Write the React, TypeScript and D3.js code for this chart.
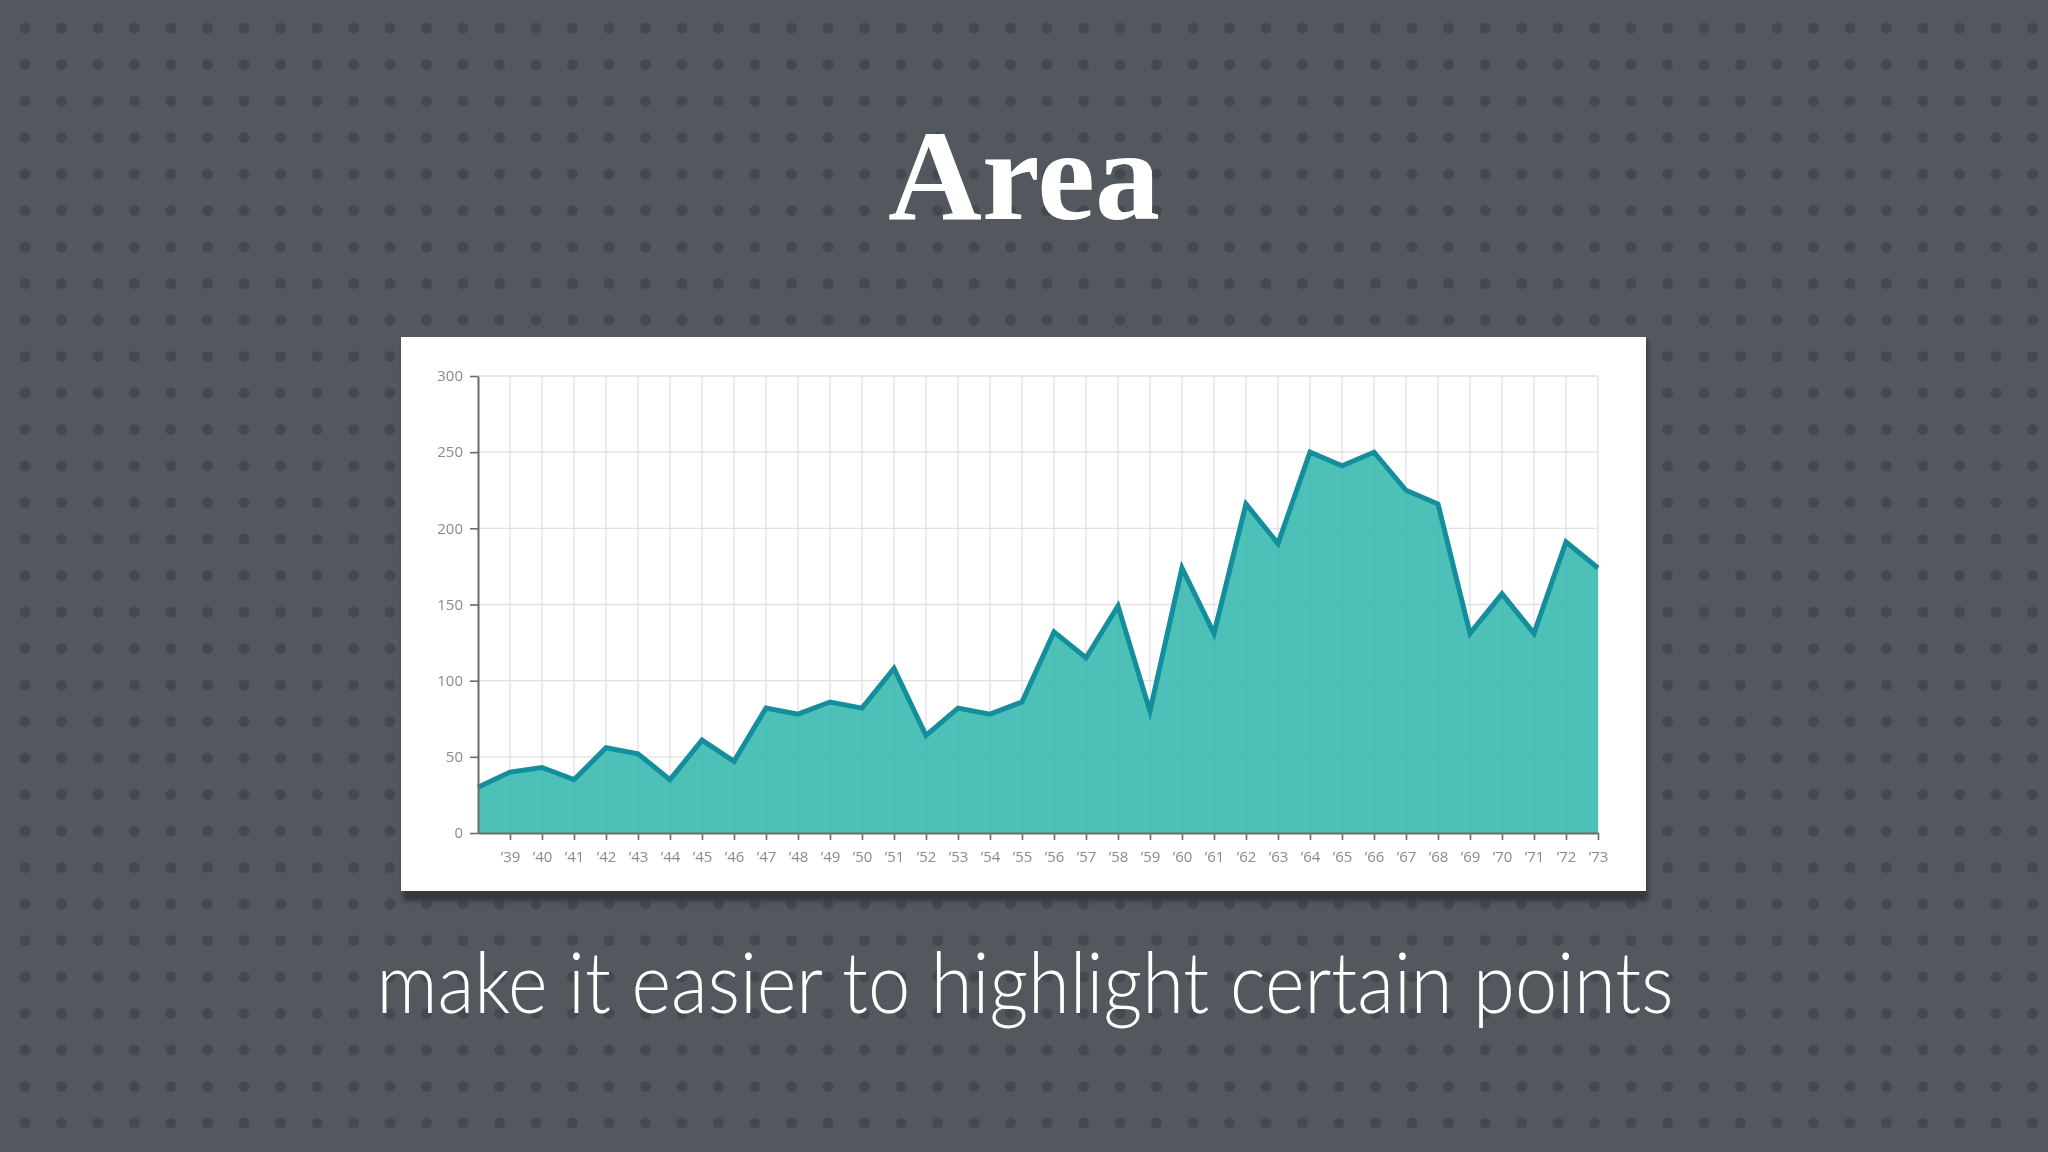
import React, { useEffect, useRef } from "react"
import * as d3 from "d3"

// yearly values, '38 .. '73
const years = [
  1938, 1939, 1940, 1941, 1942, 1943, 1944, 1945, 1946, 1947, 1948, 1949,
  1950, 1951, 1952, 1953, 1954, 1955, 1956, 1957, 1958, 1959, 1960, 1961,
  1962, 1963, 1964, 1965, 1966, 1967, 1968, 1969, 1970, 1971, 1972, 1973,
]
const values = [
  30, 40, 43, 35, 56, 52, 35, 61, 47, 82, 78, 86, 82, 108, 64, 82, 78, 86,
  132, 115, 149, 80, 174, 131, 216, 190, 250, 241, 250, 225, 216, 131, 157,
  131, 191, 174,
]
const yTicks = [0, 50, 100, 150, 200, 250, 300]
const xTickYears = years.slice(1)

const title = "Area"
const subtitle = "make it easier to highlight certain points"

const W = 2048
const H = 1152

const App: React.FC = () => {
  const ref = useRef<SVGSVGElement>(null)

  useEffect(() => {
    if (!ref.current) return
    const svg = d3.select(ref.current)
    svg.selectAll("*").remove()

    // dotted background
    const defs = svg.append("defs")
    const pat = defs
      .append("pattern")
      .attr("id", "dots")
      .attr("patternUnits", "userSpaceOnUse")
      .attr("x", 6.75)
      .attr("y", 9.75)
      .attr("width", 36.5)
      .attr("height", 36.5)
    pat.append("rect").attr("width", 36.5).attr("height", 36.5).attr("fill", "#53575e")
    pat.append("circle").attr("cx", 18.25).attr("cy", 18.25).attr("r", 5.5).attr("fill", "#45484f")

    defs
      .append("filter")
      .attr("id", "blur")
      .attr("x", "-5%")
      .attr("y", "-5%")
      .attr("width", "110%")
      .attr("height", "110%")
      .append("feGaussianBlur")
      .attr("stdDeviation", 2)

    svg.append("rect").attr("width", W).attr("height", H).attr("fill", "url(#dots)")

    // title + subtitle
    svg
      .append("text")
      .attr("x", 1024)
      .attr("y", 219)
      .attr("text-anchor", "middle")
      .attr("font-family", "'Liberation Serif', 'DejaVu Serif', serif")
      .attr("font-weight", 700)
      .attr("font-size", 130)
      .attr("fill", "#ffffff")
      .text(title)

    svg
      .append("text")
      .attr("x", 1025)
      .attr("y", 1013)
      .attr("text-anchor", "middle")
      .attr("font-family", "Lato, 'Open Sans', 'Noto Sans', sans-serif")
      .attr("font-weight", 300)
      .attr("font-size", 84)
      .attr("textLength", 1297)
      .attr("lengthAdjust", "spacingAndGlyphs")
      .attr("fill", "#ffffff")
      .text(subtitle)

    // white panel with shadow
    const panel = { x: 401, y: 337, w: 1245, h: 554 }
    svg
      .append("rect")
      .attr("x", panel.x + 2)
      .attr("y", panel.y + 4)
      .attr("width", panel.w)
      .attr("height", panel.h + 6)
      .attr("fill", "#35383d")
      .attr("filter", "url(#blur)")
    svg
      .append("rect")
      .attr("x", panel.x)
      .attr("y", panel.y)
      .attr("width", panel.w)
      .attr("height", panel.h)
      .attr("fill", "#ffffff")

    const x = d3.scaleLinear().domain([years[0], years[years.length - 1]]).range([478, 1598])
    const y = d3.scaleLinear().domain([0, 300]).range([833, 376])

    const g = svg.append("g")

    // grid
    g.append("g")
      .selectAll("line")
      .data(xTickYears)
      .join("line")
      .attr("x1", (d) => x(d))
      .attr("x2", (d) => x(d))
      .attr("y1", y(300))
      .attr("y2", y(0))
      .attr("stroke", "#e3dfe3")
      .attr("stroke-width", 1.3)
    g.append("g")
      .selectAll("line")
      .data(yTicks.slice(1))
      .join("line")
      .attr("x1", x(years[0]))
      .attr("x2", x(years[years.length - 1]))
      .attr("y1", (d) => y(d))
      .attr("y2", (d) => y(d))
      .attr("stroke", "#e3dfe3")
      .attr("stroke-width", 1.3)

    const pts = years.map((yr, i) => ({ yr, v: values[i] }))

    g.append("path")
      .datum(pts)
      .attr("fill", "#3ab9b0")
      .attr("fill-opacity", 0.9)
      .attr(
        "d",
        d3
          .area<{ yr: number; v: number }>()
          .x((d) => x(d.yr))
          .y0(y(0))
          .y1((d) => y(d.v))
      )

    g.append("path")
      .datum(pts)
      .attr("fill", "none")
      .attr("stroke", "#128e9d")
      .attr("stroke-width", 5)
      .attr("stroke-linejoin", "miter")
      .attr(
        "d",
        d3
          .line<{ yr: number; v: number }>()
          .x((d) => x(d.yr))
          .y((d) => y(d.v))
      )

    // axes
    const font = "'Open Sans', 'Noto Sans', sans-serif"
    const yAxis = g
      .append("g")
      .attr("transform", `translate(${x(years[0])},0)`)
      .call(
        d3
          .axisLeft(y)
          .tickValues(yTicks)
          .tickSize(8)
          .tickSizeOuter(0)
          .tickPadding(7)
      )
    const xAxis = g
      .append("g")
      .attr("transform", `translate(0,${y(0)})`)
      .call(
        d3
          .axisBottom(x)
          .tickValues(xTickYears)
          .tickFormat((d) => "\u2019" + String(d).slice(2))
          .tickSize(7)
          .tickSizeOuter(0)
          .tickPadding(11)
      )
    ;[yAxis, xAxis].forEach((ax) => {
      ax.select(".domain").attr("stroke", "#6b6b6b").attr("stroke-width", 2)
      ax.selectAll(".tick line").attr("stroke", "#6b6b6b").attr("stroke-width", 1.6)
      ax.selectAll(".tick text")
        .attr("fill", "#8a8a8a")
        .attr("font-family", font)
        .attr("font-size", 15)
    })
  }, [])

  return (
    <svg
      ref={ref}
      width={W}
      height={H}
      style={{ position: "fixed", left: 0, top: 0, display: "block" }}
    />
  )
}

export default App
